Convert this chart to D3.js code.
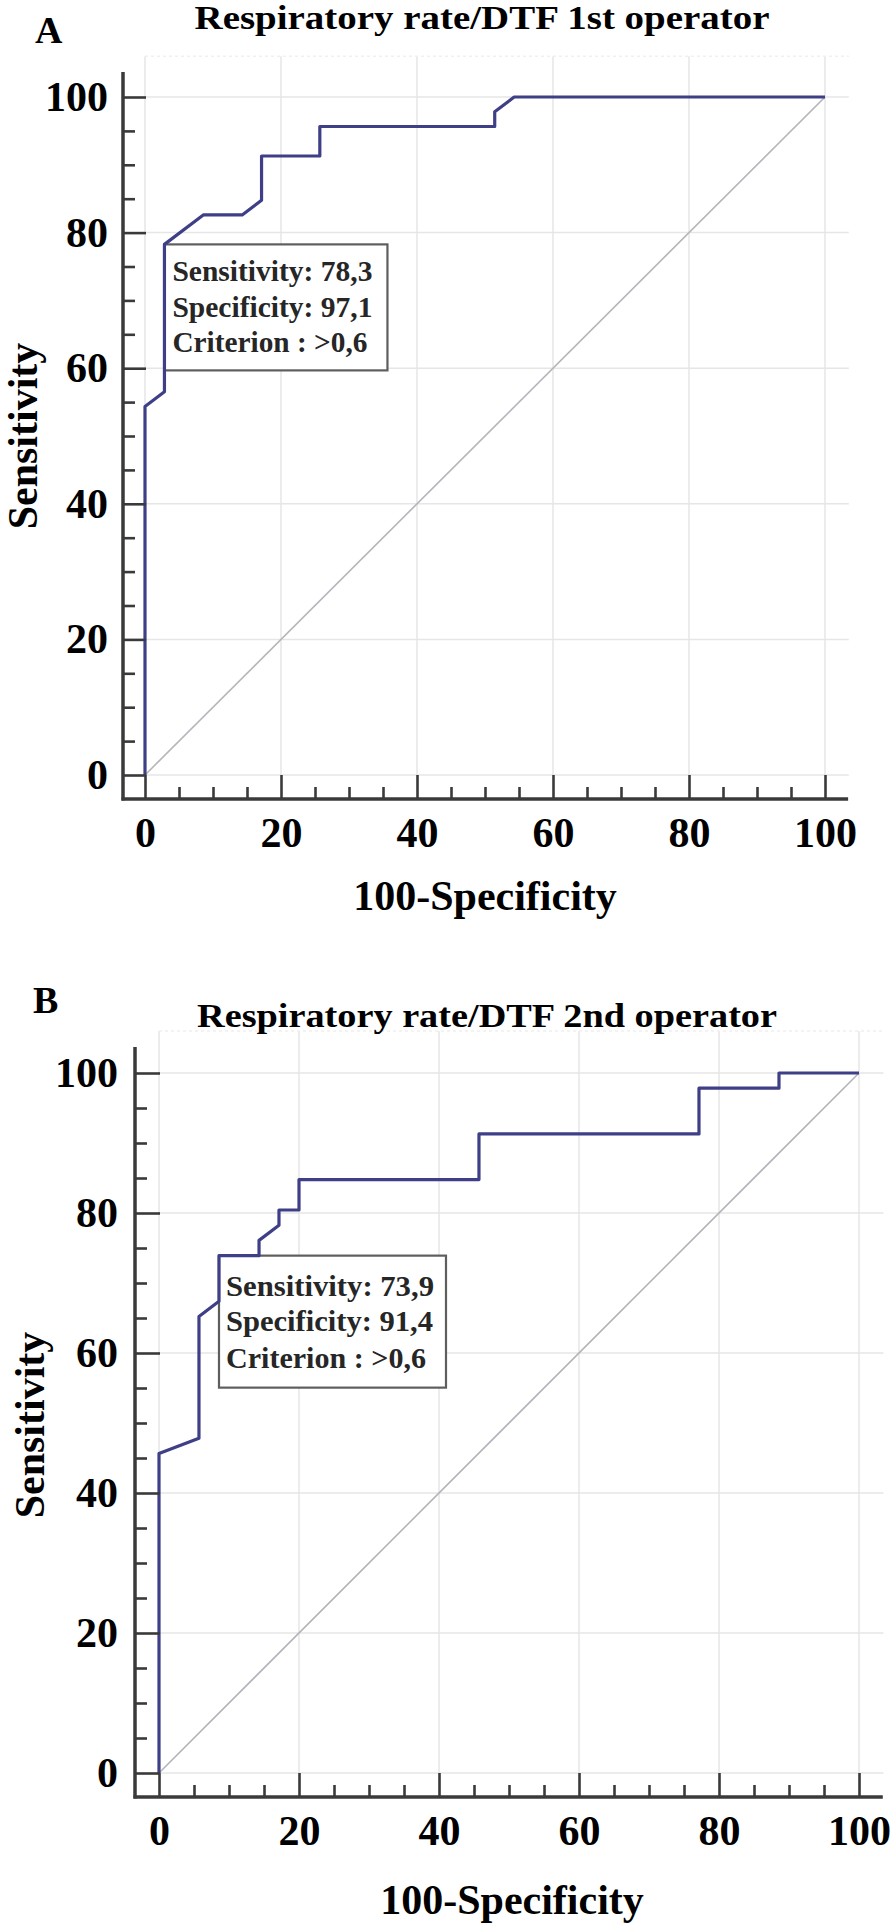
<!DOCTYPE html>
<html><head><meta charset="utf-8">
<script src="https://cdn.jsdelivr.net/npm/d3@7"></script>
<style>
html,body{margin:0;padding:0;background:#fff;}
svg{display:block;}
</style></head><body>
<svg id="chart" width="896" height="1928"></svg>
<script>
// ---------------- data ----------------
const ticksMajor = [0, 20, 40, 60, 80, 100];
const ticksMinor = [5, 10, 15, 25, 30, 35, 45, 50, 55, 65, 70, 75, 85, 90, 95];
const panelLetters = ["A", "B"];
const titles = ["Respiratory rate/DTF 1st operator", "Respiratory rate/DTF 2nd operator"];
const xTitle = "100-Specificity";
const yTitle = "Sensitivity";
const diagonal = [0, 100];

// ROC curve A (x = 100-Specificity, y = Sensitivity)
const rocA_fpr  = [0, 0, 2.86, 2.86, 8.57, 14.29, 17.14, 17.14, 25.71, 25.71, 51.43, 51.43, 54.29, 100];
const rocA_sens = [0, 54.35, 56.52, 78.26, 82.61, 82.61, 84.78, 91.30, 91.30, 95.65, 95.65, 97.83, 100, 100];
// ROC curve B
const rocB_fpr  = [0, 0, 5.71, 5.71, 8.57, 8.57, 14.29, 14.29, 17.14, 17.14, 20, 20, 45.71, 45.71, 77.14, 77.14, 88.57, 88.57, 100];
const rocB_sens = [0, 45.65, 47.83, 65.22, 67.39, 73.91, 73.91, 76.09, 78.26, 80.43, 80.43, 84.78, 84.78, 91.30, 91.30, 97.83, 97.83, 100, 100];

const cutLabelsA = ["Sensitivity: 78,3", "Specificity: 97,1", "Criterion : >0,6"];
const cutLabelsB = ["Sensitivity: 73,9", "Specificity: 91,4", "Criterion : >0,6"];
const cutPointA = [2.86, 78.26];
const cutPointB = [8.57, 73.91];

// ---------------- layout ----------------
const FONT = '"Liberation Serif","Times New Roman",Times,serif';
const panels = [
  { letter: panelLetters[0], title: titles[0], fpr: rocA_fpr, sens: rocA_sens, cut: cutPointA, lines: cutLabelsA,
    x0: 145, x1: 825, y0: 775, y1: 97, gapX: 22, gapY: 24,
    titleX: 482, titleY: 29, titleW: 575, letterX: 35, letterY: 43,
    xTitleX: 485, xTitleY: 910, yTitleX: 37, yTitleY: 436, yLabPad: 15,
    boxW: 223, boxH: 126, textDx: 8, textDy: [37, 73, 108], textW: [200, 200, 195] },
  { letter: panelLetters[1], title: titles[1], fpr: rocB_fpr, sens: rocB_sens, cut: cutPointB, lines: cutLabelsB,
    x0: 159, x1: 859, y0: 1773, y1: 1073, gapX: 24, gapY: 24,
    titleX: 487, titleY: 1027, titleW: 580, letterX: 33, letterY: 1013,
    xTitleX: 512, xTitleY: 1914, yTitleX: 44, yTitleY: 1425, yLabPad: 17,
    boxW: 227, boxH: 132, textDx: 7, textDy: [40, 75, 112], textW: [208, 207, 200] }
];

const svg = d3.select("#chart");

panels.forEach(p => {
  const x = d3.scaleLinear().domain([0, 100]).range([p.x0, p.x1]);
  const y = d3.scaleLinear().domain([0, 100]).range([p.y0, p.y1]);
  const axX = p.x0 - p.gapX;   // y-axis line position
  const axY = p.y0 + p.gapY;   // x-axis line position
  const g = svg.append("g");

  // grid
  const grid = g.append("g").attr("stroke", "#e6e6e6").attr("stroke-width", 1.5);
  grid.selectAll("line.v").data(ticksMajor).join("line")
    .attr("x1", d => x(d)).attr("x2", d => x(d))
    .attr("y1", y(0)).attr("y2", y(106));
  grid.selectAll("line.h").data(ticksMajor).join("line")
    .attr("x1", x(0)).attr("x2", x(103.5))
    .attr("y1", d => y(d)).attr("y2", d => y(d));
  g.append("line").attr("x1", x(0)).attr("x2", x(103.5)).attr("y1", y(106)).attr("y2", y(106))
    .attr("stroke", "#f0f0f0").attr("stroke-width", 1.5).attr("stroke-dasharray", "3,3");

  // diagonal reference
  g.append("path")
    .datum(diagonal.map(v => [v, v]))
    .attr("d", d3.line().x(d => x(d[0])).y(d => y(d[1])))
    .attr("fill", "none").attr("stroke", "#b4b4bc").attr("stroke-width", 1.6);

  // criterion box
  const bx = x(p.cut[0]), by = y(p.cut[1]);
  g.append("rect").attr("x", bx).attr("y", by).attr("width", p.boxW).attr("height", p.boxH)
    .attr("fill", "#fff").attr("stroke", "#5e5e5e").attr("stroke-width", 2.2);
  p.lines.forEach((t, i) => {
    g.append("text").attr("x", bx + p.textDx).attr("y", by + p.textDy[i])
      .attr("font-family", FONT).attr("font-weight", "bold").attr("font-size", 29)
      .attr("fill", "#262626")
      .attr("textLength", p.textW[i]).attr("lengthAdjust", "spacingAndGlyphs")
      .text(t);
  });

  // ROC curve
  g.append("path")
    .datum(d3.zip(p.fpr, p.sens))
    .attr("d", d3.line().x(d => x(d[0])).y(d => y(d[1])))
    .attr("fill", "none").attr("stroke", "#3f3f88").attr("stroke-width", 3.2)
    .attr("stroke-linejoin", "round");

  // y axis
  const yAxG = g.append("g").attr("transform", `translate(${axX},0)`);
  yAxG.call(d3.axisLeft(y).tickValues(ticksMajor).tickSize(-(p.gapX + 1)).tickPadding(p.yLabPad));
  yAxG.select(".domain").remove();
  const yMin = g.append("g").attr("transform", `translate(${axX},0)`);
  yMin.call(d3.axisLeft(y).tickValues(ticksMinor).tickSize(-12).tickFormat(""));
  yMin.select(".domain").remove();

  // x axis
  const xAxG = g.append("g").attr("transform", `translate(0,${axY})`);
  xAxG.call(d3.axisBottom(x).tickValues(ticksMajor).tickSize(-p.gapY).tickPadding(18));
  xAxG.select(".domain").remove();
  const xMin = g.append("g").attr("transform", `translate(0,${axY})`);
  xMin.call(d3.axisBottom(x).tickValues(ticksMinor).tickSize(-12).tickFormat(""));
  xMin.select(".domain").remove();

  [yAxG, yMin, xAxG, xMin].forEach(a => {
    a.selectAll(".tick line").attr("stroke", "#3a3a3a").attr("stroke-width", 2.6);
    a.selectAll(".tick text").attr("font-family", FONT).attr("font-weight", "bold")
      .attr("font-size", 42).attr("fill", "#000");
  });

  // axis lines
  g.append("line").attr("x1", axX).attr("x2", axX).attr("y1", y(103.7)).attr("y2", axY + 1.5)
    .attr("stroke", "#3a3a3a").attr("stroke-width", 3.5);
  g.append("line").attr("x1", axX - 1.5).attr("x2", x(103.4)).attr("y1", axY).attr("y2", axY)
    .attr("stroke", "#3a3a3a").attr("stroke-width", 3.5);

  // titles
  g.append("text").attr("x", p.titleX).attr("y", p.titleY).attr("text-anchor", "middle")
    .attr("font-family", FONT).attr("font-weight", "bold").attr("font-size", 33).attr("fill", "#000")
    .attr("textLength", p.titleW).attr("lengthAdjust", "spacingAndGlyphs")
    .text(p.title);
  g.append("text").attr("x", p.letterX).attr("y", p.letterY)
    .attr("font-family", FONT).attr("font-weight", "bold").attr("font-size", 38).attr("fill", "#000")
    .text(p.letter);
  g.append("text").attr("x", p.xTitleX).attr("y", p.xTitleY).attr("text-anchor", "middle")
    .attr("font-family", FONT).attr("font-weight", "bold").attr("font-size", 42).attr("fill", "#000")
    .text(xTitle);
  g.append("text").attr("transform", `translate(${p.yTitleX},${p.yTitleY}) rotate(-90)`)
    .attr("text-anchor", "middle")
    .attr("font-family", FONT).attr("font-weight", "bold").attr("font-size", 42).attr("fill", "#000")
    .text(yTitle);
});
</script>
</body></html>
